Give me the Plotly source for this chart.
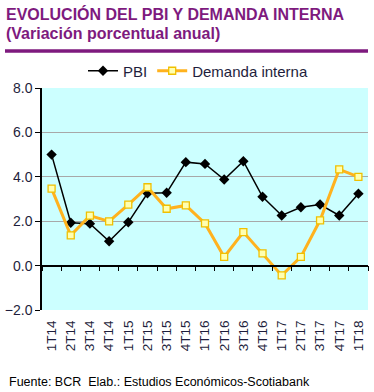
import plotly.graph_objects as go

categories = ["1T14", "2T14", "3T14", "4T14", "1T15", "2T15", "3T15", "4T15",
              "1T16", "2T16", "3T16", "4T16", "1T17", "2T17", "3T17", "4T17", "1T18"]
pbi = [5.0, 1.93, 1.89, 1.10, 1.95, 3.26, 3.28, 4.66,
       4.58, 3.88, 4.70, 3.10, 2.26, 2.63, 2.75, 2.26, 3.24]
demanda = [3.47, 1.36, 2.25, 1.99, 2.75, 3.53, 2.56, 2.71,
           1.90, 0.39, 1.51, 0.55, -0.44, 0.39, 2.04, 4.33, 4.00]
y_ticks = [-2, 0, 2, 4, 6, 8]

FONT = "Arial, Liberation Sans, sans-serif"
PURPLE = "#7E1A7E"
TXT = "#1E1E3C"

W, H = 374, 392
ML, MR, MT, MB = 42, 6, 88, 82
pw, ph = W - ML - MR, H - MT - MB

def px(x):
    return (x - ML) / pw

def py(y):
    return (H - MB - y) / ph

n = len(categories)
fig = go.Figure()
fig.add_trace(go.Scatter(
    x=categories, y=pbi, name="PBI", mode="lines+markers",
    line=dict(color="black", width=1.5),
    marker=dict(symbol="diamond", size=8, color="black"),
))
fig.add_trace(go.Scatter(
    x=categories, y=demanda, name="Demanda interna", mode="lines+markers",
    line=dict(color="#FFB21E", width=3),
    marker=dict(symbol="square", size=7, color="#FFFFB0",
                line=dict(color="#F0C000", width=1.3)),
))
# invisible helper trace for bottom labels axis
fig.add_trace(go.Scatter(x=list(range(n)), y=[None] * n, xaxis="x2",
                         showlegend=False, hoverinfo="skip"))

zero_pos = (0 - y_ticks[0]) / (y_ticks[-1] - y_ticks[0])

fig.update_layout(
    width=W, height=H,
    margin=dict(l=ML, r=MR, t=MT, b=MB, autoexpand=False),
    paper_bgcolor="white",
    plot_bgcolor="#CCFFFF",
    font=dict(family=FONT, color=TXT, size=13),
    showlegend=True,
    legend=dict(orientation="h", x=px(198), xanchor="center",
                y=py(71), yanchor="middle", font=dict(size=15, color=TXT),
                bgcolor="rgba(0,0,0,0)", itemwidth=30, tracegroupgap=0),
    xaxis=dict(type="category", range=[-0.5, n - 0.5], anchor="free",
               position=zero_pos, showline=True, linecolor="black", linewidth=1.5,
               ticks="outside", tickson="boundaries", ticklen=5, tickcolor="black",
               showticklabels=False, showgrid=False, zeroline=False, automargin=False),
    xaxis2=dict(overlaying="x", range=[-0.5, n - 0.5], anchor="y", side="bottom",
                tickmode="array", tickvals=list(range(n)), ticktext=categories,
                tickangle=-90, tickfont=dict(size=13.5, color=TXT), automargin=False,
                showline=False, showgrid=False, zeroline=False, ticks="outside",
                ticklen=4, tickcolor="rgba(0,0,0,0)"),
    yaxis=dict(range=[y_ticks[0], y_ticks[-1]], tickvals=y_ticks, tickformat=".1f",
               showline=True, linecolor="black", linewidth=1.5, automargin=False,
               ticks="outside", ticklen=5, tickcolor="black",
               gridcolor="#A8A8A8", gridwidth=1, zeroline=False,
               tickfont=dict(size=14, color=TXT)),
)

fig.add_annotation(text="<b>EVOLUCIÓN DEL PBI Y DEMANDA INTERNA</b>", xref="paper", yref="paper",
                   x=px(4), y=py(14), xanchor="left", yanchor="middle", showarrow=False,
                   font=dict(size=16, color=PURPLE, family=FONT))
fig.add_annotation(text="<b>(Variación porcentual anual)</b>", xref="paper", yref="paper",
                   x=px(4), y=py(33), xanchor="left", yanchor="middle", showarrow=False,
                   font=dict(size=16, color=PURPLE, family=FONT))
fig.add_shape(type="line", xref="paper", yref="paper",
              x0=px(5), x1=px(368), y0=py(51), y1=py(51),
              line=dict(color=PURPLE, width=3.5))
fig.add_annotation(text="Fuente: BCR  Elab.: Estudios Económicos-Scotiabank", xref="paper", yref="paper",
                   x=px(7), y=py(382), xanchor="left", yanchor="middle", showarrow=False,
                   font=dict(size=12.5, color="black", family=FONT))

fig.write_html("out.html", config={"displayModeBar": False},
               post_script="document.body.style.margin='0';document.body.style.overflow='hidden';")
